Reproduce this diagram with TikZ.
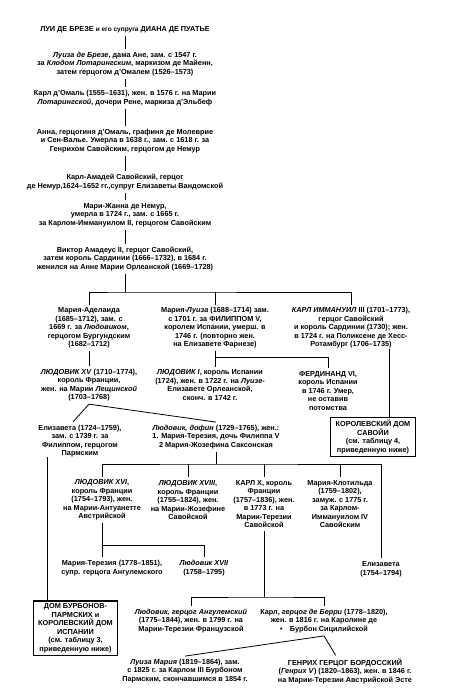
\documentclass[tikz,border=0pt]{standalone}
\usepackage{fontspec}
\setmainfont{Liberation Sans}
\newcommand{\fs}{\fontsize{7.3}{8.5}\selectfont\bfseries}
\tikzset{
  txt/.style={align=center,inner sep=0pt,outer sep=3pt,font=\fs},
  refbox/.style={draw,line width=1.1pt,align=center,inner xsep=5pt,inner ysep=2.5pt,font=\fs},
}
\begin{document}
\begin{tikzpicture}[x=1pt,y=-1pt,line width=0.8pt]
  \useasboundingbox (0,0) rectangle (456,700);

  \node (title) at (125,30) [txt]{ЛУИ ДЕ БРЕЗЕ {\fontsize{6.5}{8}\selectfont и его супруга} ДИАНА ДЕ ПУАТЬЕ};
  \node (louise) at (125,64) [txt]{\textit{Луиза де Брезе}, дама Ане, зам. с 1547 г.\\за \textit{Клодом Лотарингским}, маркизом де Майенн,\\затем герцогом д'Омалем (1526--1573)};
  \node (charles) at (125,98) [txt]{Карл д'Омаль (1555--1631), жен. в 1576 г. на Марии\\\textit{Лотарингской}, дочери Рене, маркиза д'Эльбеф};
  \node (anne) at (125,141) [txt]{Анна, герцогиня д'Омаль, графиня де Молеврие\\и Сен-Валье. Умерла в 1638 г., зам. с 1618 г. за\\Генрихом Савойским, герцогом де Немур};
  \node (charlesam) at (125,182) [txt]{Карл-Амадей Савойский, герцог\\де Немур,1624--1652 гг.,супруг Елизаветы Вандомской};
  \node (mariejeanne) at (125,215) [txt]{Мари-Жанна де Немур,\\умерла в 1724 г., зам. с 1665 г.\\за Карлом-Иммануилом II, герцогом Савойским};
  \node (victor) at (125,259) [txt]{Виктор Амадеус II, герцог Савойский,\\затем король Сардинии (1666--1732), в 1684 г.\\женился на Анне Марии Орлеанской (1669--1728)};

  \node (madel) at (89,328) [txt]{Мария-Аделаида\\(1685--1712), зам. с\\1669 г. за \textit{Людовиком},\\герцогом Бургундским\\(1682--1712)};
  \node (mluise) at (215,328) [txt]{Мария-\textit{Луиза} (1688--1714) зам.\\с 1701 г. за ФИЛИППОМ V,\\королем Испании, умерш. в\\1746 г. (повторно жен.\\на Елизавете Фарнезе)};
  \node (karl) at (351,328) [txt]{\textit{КАРЛ ИММАНУИЛ} III (1701--1773),\\герцог Савойский\\и король Сардинии (1730); жен.\\в 1724 г. на Поликсене де Хесс-\\Ротамбург (1706--1735)};

  \node (louis15) at (89,385) [txt]{\textit{ЛЮДОВИК XV} (1710--1774),\\король Франции,\\жен. на Марии \textit{Лещинской}\\(1703--1768)};
  \node (louis1) at (210,385) [txt]{\textit{ЛЮДОВИК I}, король Испании\\(1724), жен. в 1722 г. на \textit{Луизе}-\\Елизавете Орлеанской,\\сконч. в 1742 г.};
  \node (ferd) at (328,391) [txt]{ФЕРДИНАНД VI,\\король Испании\\в 1746 г. Умер,\\не оставив\\потомства};
  \node (savoy) at (373,437) [refbox]{КОРОЛЕВСКИЙ ДОМ\\САВОЙИ\\(см. таблицу 4,\\приведенную ниже)};

  \node (elis1) at (80,441) [txt]{Елизавета (1724--1759),\\зам. с 1739 г. за\\Филиппом, герцогом\\Пармским};
  \node (dauphin) at (216,437) [txt]{\textit{Людовик, дофин} (1729--1765), жен.:\\1. Мария-Терезия, дочь Филиппа V\\2 Мария-Жозефина Саксонская};

  \node (louis16) at (102,500) [txt]{\textit{ЛЮДОВИК XVI},\\король Франции\\(1754--1793), жен.\\на Марии-Антуанетте\\Австрийской};
  \node (louis18) at (188,500) [txt]{\textit{ЛЮДОВИК XVIII},\\король Франции\\(1755--1824), жен.\\на Марии-Жозефине\\Савойской};
  \node (charles10) at (264,504) [txt]{КАРЛ X, король\\Франции\\(1757--1836), жен.\\в 1773 г. на\\Марии-Терезии\\Савойской};
  \node (clotilde) at (340,504) [txt]{Мария-Клотильда\\(1759--1802),\\замуж. с 1775 г.\\за Карлом-\\Иммануилом IV\\Савойским};
  \node (elis2) at (381,569) [txt]{Елизавета\\(1754--1794)};

  \node (mtherese) at (112,568) [txt]{Мария-Терезия (1778--1851),\\супр. герцога Ангулемского};
  \node (louis17) at (204,568) [txt]{\textit{Людовик XVII}\\(1758--1795)};

  \node (bourbon) at (75.5,628) [refbox]{ДОМ БУРБОНОВ-\\ПАРМСКИХ и\\КОРОЛЕВСКИЙ ДОМ\\ИСПАНИИ\\(см. таблицу 3,\\приведенную ниже)};
  \node (angou) at (191,621) [txt]{\textit{Людовик, герцог Ангулемский}\\(1775--1844), жен. в 1799 г. на\\Марии-Терезии Французской};
  \node (berry) at (324,621) [txt]{Карл, \textit{герцог де Берри} (1778--1820),\\жен. в 1816 г. на Каролине де\\•\quad Бурбон Сицилийской};

  \node (louisem) at (185,671) [txt]{\textit{Луиза Мария} (1819--1864), зам.\\с 1825 г. за Карлом III Бурбоном\\Пармским, скончавшимся в 1854 г.};
  \node (henri) at (345,671) [txt]{ГЕНРИХ ГЕРЦОГ БОРДОССКИЙ\\(\textit{Генрих V}) (1820--1863), жен. в 1846 г.\\на Марии-Терезии Австрийской Эсте};

  % upper line of descent
  \draw (title) -- (louise);
  \draw (louise) -- (charles);
  \draw (charles) -- (anne);
  \draw (anne) -- (charlesam);
  \draw (charlesam) -- (mariejeanne);
  \draw (mariejeanne) -- (victor);

  % children of Victor Amadeus
  \coordinate (vj) at (125,292);
  \draw (victor) -- (vj);
  \draw (madel) |- (vj) -| (karl);
  \draw (mluise) -- (mluise |- vj);

  \draw (madel) -- (louis15);
  \coordinate (mj) at (215,357);
  \draw (mluise) -- (mluise |- louis1.north);
  \draw (mj) -| (ferd);
  \coordinate (kj) at (389,349);
  \draw (kj) -- (kj |- savoy.north);

  % children of Louis XV
  \draw (elis1.110) -- (louis15.south) -- (dauphin.north);
  \coordinate (ej) at (47,457);
  \draw (ej) -- (ej |- bourbon.north);

  % children of the dauphin
  \coordinate (dj) at (216,464);
  \draw (dauphin) -- (dj);
  \draw (louis16) |- (dj) -| (elis2);
  \draw (louis18) -- (louis18 |- dj);
  \draw (charles10) -- (charles10 |- dj);
  \draw (clotilde) -- (clotilde |- dj);

  \coordinate (j16) at (102,545);
  \draw (louis16) -- (louis16 |- mtherese.north);
  \draw (j16) -| (louis17);

  \coordinate (cj) at (264,597);
  \draw (charles10) -- (cj);
  \draw (angou) |- (cj) -| (berry);

  \draw (louisem.north) -- (berry.south) -- (henri);

\end{tikzpicture}
\end{document}
